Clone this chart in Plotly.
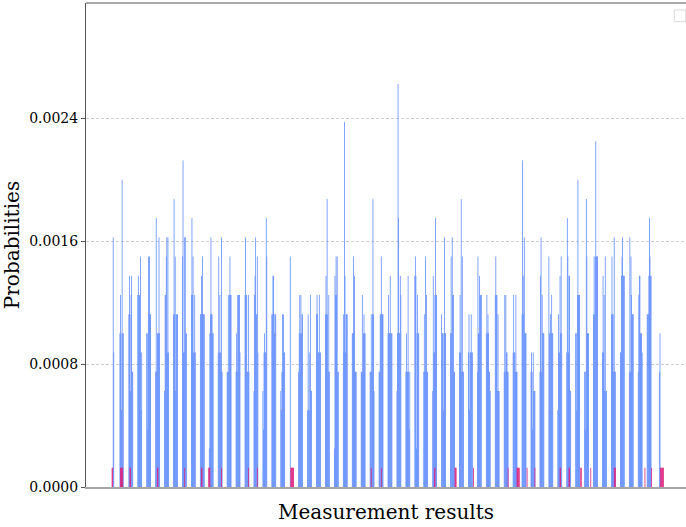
import plotly.graph_objects as go

shots = 8000
group_size = 16  # state-index spacing between clusters

# counts per cluster (8 consecutive states per cluster)
cluster_counts = [
    [0, 0, 0, 0, 13, 7, 0, 0],
    [8, 10, 8, 4, 16, 8, 8, 0],
    [9, 11, 9, 5, 10, 11, 6, 6],
    [10, 11, 10, 10, 7, 12, 4, 7],
    [8, 8, 3, 12, 9, 12, 9, 9],
    [6, 14, 6, 8, 8, 8, 13, 8],
    [5, 10, 10, 12, 13, 7, 13, 7],
    [9, 15, 9, 12, 5, 9, 9, 9],
    [12, 17, 7, 7, 13, 13, 8, 8],
    [10, 14, 10, 12, 7, 7, 10, 7],
    [9, 9, 11, 9, 12, 9, 9, 9],
    [2, 8, 9, 13, 9, 9, 8, 8],
    [7, 12, 7, 10, 7, 6, 13, 6],
    [6, 6, 10, 6, 10, 12, 10, 10],
    [6, 8, 6, 10, 10, 10, 10, 7],
    [10, 13, 10, 10, 6, 6, 10, 6],
    [5, 10, 11, 13, 9, 9, 12, 7],
    [5, 3, 7, 8, 7, 7, 14, 12],
    [9, 9, 11, 11, 9, 8, 9, 9],
    [5, 4, 6, 9, 6, 9, 7, 7],
    [0, 12, 0, 0, 0, 0, 0, 0],
    [6, 8, 10, 8, 10, 8, 9, 9],
    [4, 9, 4, 7, 4, 10, 5, 5],
    [9, 10, 9, 7, 7, 10, 7, 7],
    [9, 11, 9, 15, 9, 6, 10, 6],
    [2, 11, 10, 12, 10, 12, 6, 6],
    [9, 7, 19, 11, 7, 9, 9, 9],
    [8, 8, 12, 8, 11, 6, 6, 6],
    [6, 6, 10, 6, 8, 9, 8, 8],
    [6, 6, 9, 6, 9, 15, 9, 5],
    [6, 6, 9, 9, 12, 9, 9, 9],
    [8, 10, 8, 8, 11, 8, 8, 8],
    [5, 8, 21, 14, 8, 8, 11, 10],
    [6, 8, 6, 6, 11, 6, 3, 6],
    [11, 12, 11, 2, 8, 10, 8, 8],
    [6, 9, 6, 12, 6, 10, 6, 6],
    [5, 11, 7, 7, 10, 14, 10, 10],
    [9, 8, 8, 4, 8, 13, 8, 8],
    [8, 12, 8, 13, 10, 10, 6, 6],
    [7, 10, 7, 15, 6, 12, 6, 6],
    [7, 9, 4, 7, 7, 9, 7, 7],
    [6, 12, 8, 8, 11, 10, 10, 10],
    [8, 10, 8, 9, 8, 6, 6, 5],
    [10, 12, 10, 10, 5, 9, 5, 5],
    [6, 10, 6, 10, 7, 7, 6, 6],
    [7, 10, 7, 7, 6, 10, 6, 6],
    [9, 17, 11, 9, 13, 8, 8, 8],
    [6, 7, 6, 3, 7, 5, 5, 5],
    [6, 11, 13, 6, 10, 8, 8, 8],
    [12, 8, 4, 9, 8, 10, 8, 8],
    [4, 9, 7, 7, 11, 8, 12, 8],
    [7, 14, 12, 7, 11, 11, 5, 5],
    [8, 8, 4, 10, 16, 10, 10, 10],
    [6, 3, 6, 15, 12, 8, 8, 8],
    [9, 12, 9, 12, 18, 12, 12, 12],
    [7, 11, 7, 10, 5, 12, 5, 5],
    [9, 12, 9, 9, 6, 13, 6, 6],
    [7, 7, 11, 12, 13, 11, 11, 11],
    [6, 13, 6, 12, 10, 9, 9, 9],
    [6, 10, 11, 11, 8, 8, 8, 7],
    [9, 9, 9, 11, 14, 12, 11, 11],
    [0, 0, 0, 0, 0, 0, 6, 8],
]

# states of the second (pink) dataset, each with a single count
pink_states = [2, 3, 17, 18, 19, 20, 21, 34, 35, 83, 84, 132, 162, 163,
               175, 176, 177, 198, 246, 262, 322, 323, 324, 325, 326, 327,
               466, 484, 579, 580, 616, 617, 618, 649, 711, 727, 728, 729,
               730, 731, 745, 759, 804, 805, 820, 821, 841, 842, 859, 901,
               902, 903, 956, 968, 984, 985, 986, 987, 988, 989]
pink_count = 1

y_ticks = [0.0, 0.0008, 0.0016, 0.0024]
y_tick_labels = ["0.0000", "0.0008", "0.0016", "0.0024"]

blue_x, blue_y = [], []
for k, grp in enumerate(cluster_counts):
    for j, c in enumerate(grp):
        if c > 0:
            blue_x.append(k * group_size + j)
            blue_y.append(c / shots)

pink_x = pink_states
pink_y = [pink_count / shots] * len(pink_states)

fig = go.Figure()
fig.add_trace(go.Bar(x=blue_x, y=blue_y, width=1.45,
                     marker=dict(color="#648fff", line=dict(width=0)),
                     showlegend=False))
fig.add_trace(go.Bar(x=pink_x, y=pink_y, width=1.45,
                     marker=dict(color="#dc267f", line=dict(width=0)),
                     showlegend=False))

serif = "DejaVu Serif"
fig.update_layout(
    width=686, height=527,
    margin=dict(l=85.5, r=0, t=3, b=40),
    paper_bgcolor="white", plot_bgcolor="white",
    barmode="overlay",
    font=dict(family=serif, size=14, color="black"),
    xaxis=dict(range=[-44.7, 1029.5], showticklabels=False, ticks="",
               showgrid=False, zeroline=False, showline=True,
               linecolor="#a6a6a6", linewidth=2,
               title=dict(text="Measurement results",
                          font=dict(family=serif, size=20), standoff=17)),
    yaxis=dict(range=[0, 0.00315], tickvals=y_ticks, ticktext=y_tick_labels,
               ticks="outside", ticklen=4, tickcolor="#555555",
               showgrid=True, gridcolor="#cfcfcf", griddash="3px,2px",
               gridwidth=1, zeroline=False, showline=True,
               linecolor="#555555", linewidth=1,
               tickfont=dict(family=serif, size=14),
               title=dict(text="Probabilities",
                          font=dict(family=serif, size=20), standoff=6)),
    shapes=[
        dict(type="line", xref="paper", yref="paper", x0=0, x1=1, y0=1, y1=1,
             line=dict(color="#555555", width=1)),
        dict(type="rect", xref="paper", yref="paper", x0=0.9805, x1=0.9995,
             y0=0.9614, y1=0.9855, line=dict(color="#d9d9d9", width=1),
             fillcolor="white"),
    ],
)

fig.write_html("out.html", config={"staticPlot": True},
               post_script="document.body.style.margin='0';"
                           "document.body.style.overflow='hidden';")
